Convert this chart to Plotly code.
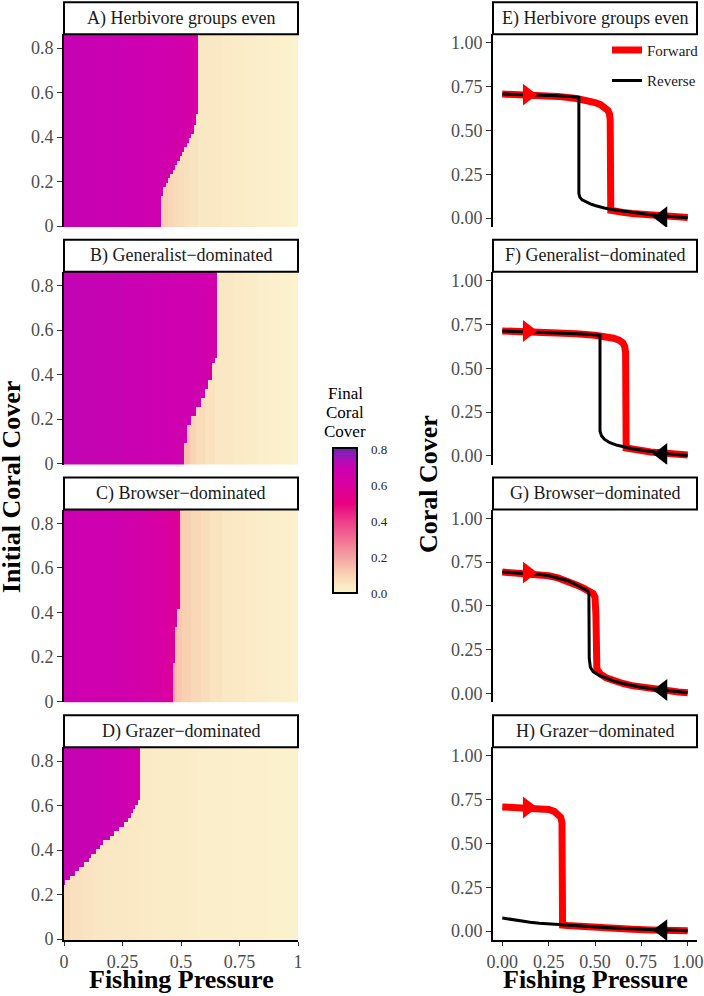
import numpy as np
import plotly.graph_objects as go

FONT = "Liberation Serif"

# ---------------- data ----------------
left_titles = ["A) Herbivore groups even", "B) Generalist\u2212dominated",
               "C) Browser\u2212dominated", "D) Grazer\u2212dominated"]
right_titles = ["E) Herbivore groups even", "F) Generalist\u2212dominated",
                "G) Browser\u2212dominated", "H) Grazer\u2212dominated"]

# heatmap grid axes
fishing_pressure = np.round(np.linspace(0, 1, 101), 2)
initial_cover = np.round(np.linspace(0, 0.86, 87), 2)

# basin boundary: fishing pressure above which coral collapses, per initial cover
A_boundary_cover = [0.00, 0.12, 0.14, 0.16, 0.18, 0.20, 0.22, 0.24, 0.26, 0.28, 0.30,
                    0.32, 0.34, 0.36, 0.38, 0.40, 0.42, 0.44, 0.46, 0.48, 0.50, 0.51]
A_boundary_fishing = [0.415, 0.42, 0.425, 0.432, 0.44, 0.452, 0.462, 0.471, 0.483, 0.494, 0.503,
                      0.514, 0.523, 0.532, 0.541, 0.549, 0.556, 0.562, 0.568, 0.573, 0.575, 0.583]
B_boundary_cover = [0.00, 0.10, 0.14, 0.18, 0.22, 0.26, 0.30, 0.34, 0.38, 0.42, 0.46, 0.48]
B_boundary_fishing = [0.522, 0.526, 0.533, 0.549, 0.57, 0.59, 0.607, 0.622, 0.635, 0.644, 0.654, 0.662]
C_boundary_cover = [0.00, 0.03, 0.18, 0.28, 0.34, 0.42]
C_boundary_fishing = [0.466, 0.469, 0.476, 0.483, 0.494, 0.504]
D_boundary_cover = [0.00, 0.25, 0.27, 0.29, 0.31, 0.33, 0.35, 0.37, 0.39, 0.41, 0.43, 0.45,
                    0.47, 0.49, 0.51, 0.53, 0.55, 0.57, 0.59, 0.61, 0.63]
D_boundary_fishing = [0.0, 0.005, 0.025, 0.045, 0.068, 0.09, 0.106, 0.12, 0.136, 0.156, 0.172, 0.195,
                      0.22, 0.238, 0.258, 0.276, 0.288, 0.30, 0.308, 0.315, 0.326]

# hysteresis curves (forward = increasing fishing, reverse = decreasing)
E_forward_x = [0, 0.1, 0.2, 0.3, 0.4, 0.45, 0.5, 0.53, 0.555, 0.57, 0.578, 0.582, 0.585, 0.6, 0.65,
               0.7, 0.75, 0.8, 0.85, 0.9, 0.95, 1.0]
E_forward_y = [0.708, 0.706, 0.702, 0.695, 0.683, 0.674, 0.66, 0.648, 0.632, 0.615, 0.595, 0.56, 0.045,
               0.04, 0.033, 0.027, 0.022, 0.017, 0.013, 0.01, 0.007, 0.004]
E_reverse_x = [0, 0.1, 0.2, 0.3, 0.36, 0.4, 0.413, 0.413, 0.418, 0.43, 0.45, 0.475, 0.5, 0.525, 0.55,
               0.6, 0.65, 0.7, 0.75, 0.8, 0.85, 0.9, 0.95, 1.0]
E_reverse_y = [0.708, 0.706, 0.703, 0.698, 0.695, 0.692, 0.69, 0.14, 0.12, 0.105, 0.093, 0.081, 0.072,
               0.064, 0.058, 0.048, 0.04, 0.033, 0.026, 0.02, 0.014, 0.01, 0.006, 0.002]

F_forward_x = [0, 0.1, 0.2, 0.3, 0.4, 0.5, 0.56, 0.6, 0.63, 0.65, 0.66, 0.665, 0.668, 0.7, 0.75,
               0.8, 0.85, 0.9, 0.95, 1.0]
F_forward_y = [0.713, 0.711, 0.708, 0.703, 0.697, 0.688, 0.68, 0.671, 0.66, 0.645, 0.625, 0.59, 0.045,
               0.038, 0.03, 0.022, 0.017, 0.012, 0.008, 0.004]
F_reverse_x = [0, 0.1, 0.2, 0.3, 0.4, 0.48, 0.527, 0.527, 0.535, 0.55, 0.58, 0.62, 0.67, 0.7, 0.75,
               0.8, 0.85, 0.9, 0.95, 1.0]
F_reverse_y = [0.713, 0.71, 0.706, 0.701, 0.697, 0.692, 0.688, 0.14, 0.115, 0.095, 0.075, 0.06, 0.047,
               0.04, 0.032, 0.024, 0.017, 0.011, 0.006, 0.002]

G_forward_x = [0, 0.1, 0.2, 0.25, 0.3, 0.35, 0.4, 0.44, 0.47, 0.49, 0.5, 0.505, 0.51, 0.53, 0.56, 0.6,
               0.65, 0.7, 0.75, 0.8, 0.85, 0.9, 0.95, 1.0]
G_forward_y = [0.693, 0.688, 0.68, 0.672, 0.66, 0.645, 0.62, 0.6, 0.585, 0.57, 0.55, 0.45, 0.14, 0.11,
               0.09, 0.072, 0.057, 0.045, 0.036, 0.028, 0.021, 0.014, 0.009, 0.004]
G_reverse_x = [0, 0.1, 0.2, 0.25, 0.3, 0.35, 0.4, 0.44, 0.462, 0.467, 0.469, 0.475, 0.49, 0.52, 0.56,
               0.6, 0.65, 0.7, 0.75, 0.8, 0.85, 0.9, 0.95, 1.0]
G_reverse_y = [0.693, 0.688, 0.68, 0.672, 0.66, 0.645, 0.62, 0.6, 0.585, 0.57, 0.2, 0.15, 0.125, 0.105,
               0.088, 0.072, 0.057, 0.045, 0.036, 0.028, 0.021, 0.014, 0.009, 0.004]

H_forward_x = [0, 0.1, 0.2, 0.25, 0.28, 0.3, 0.315, 0.322, 0.325, 0.35, 0.4, 0.5, 0.6, 0.7, 0.8, 0.9, 1.0]
H_forward_y = [0.709, 0.707, 0.703, 0.695, 0.684, 0.67, 0.65, 0.62, 0.035, 0.032, 0.028, 0.022, 0.016,
               0.011, 0.007, 0.004, 0.002]
H_reverse_x = [0, 0.05, 0.1, 0.15, 0.2, 0.25, 0.3, 0.35, 0.4, 0.45, 0.5, 0.55, 0.6, 0.65, 0.7, 0.75,
               0.8, 0.85, 0.9, 0.95, 1.0]
H_reverse_y = [0.075, 0.066, 0.058, 0.051, 0.045, 0.041, 0.037, 0.033, 0.03, 0.027, 0.024, 0.021, 0.018,
               0.015, 0.013, 0.011, 0.009, 0.007, 0.006, 0.004, 0.003]

# direction arrow heads
forward_arrow_x = 0.137
forward_arrow_y = [0.705, 0.712, 0.69, 0.706]
reverse_arrow_x = 0.864
reverse_arrow_y = [0.005, 0.01, 0.02, 0.006]

y_ticks_left = [0, 0.2, 0.4, 0.6, 0.8]
y_ticklabels_left = ["0", "0.2", "0.4", "0.6", "0.8"]
x_ticks_left = [0, 0.25, 0.5, 0.75, 1]
x_ticklabels_left = ["0", "0.25", "0.5", "0.75", "1"]
ticks_right = [0, 0.25, 0.5, 0.75, 1.0]
ticklabels_right = ["0.00", "0.25", "0.50", "0.75", "1.00"]
cbar_ticks = [0, 0.2, 0.4, 0.6, 0.8]
cbar_ticklabels = ["0.0", "0.2", "0.4", "0.6", "0.8"]

boundaries = [(A_boundary_cover, A_boundary_fishing), (B_boundary_cover, B_boundary_fishing),
              (C_boundary_cover, C_boundary_fishing), (D_boundary_cover, D_boundary_fishing)]
curves = [(E_forward_x, E_forward_y, E_reverse_x, E_reverse_y),
          (F_forward_x, F_forward_y, F_reverse_x, F_reverse_y),
          (G_forward_x, G_forward_y, G_reverse_x, G_reverse_y),
          (H_forward_x, H_forward_y, H_reverse_x, H_reverse_y)]


def final_cover_grid(b_cover, b_fish, fx, fy, rx, ry):
    fx, fy, rx, ry = map(np.asarray, (fx, fy, rx, ry))
    hi_x, hi_y = fx[fy > 0.3], fy[fy > 0.3]
    lo_x, lo_y = rx[ry < 0.3], ry[ry < 0.3]
    hi_col = hi_y[np.abs(fishing_pressure[:, None] - hi_x[None, :]).argmin(axis=1)]
    lo_col = lo_y[np.abs(fishing_pressure[:, None] - lo_x[None, :]).argmin(axis=1)]
    cols = np.arange(len(fishing_pressure))
    Z = np.empty((len(initial_cover), len(fishing_pressure)))
    for i, c in enumerate(initial_cover):
        idx = np.searchsorted(b_cover, c + 1e-9, side="right") - 1
        thr = b_fish[idx]
        n = 0 if thr <= 0 else int(np.floor(thr / 0.01 + 0.5))
        Z[i] = np.where(cols < n, hi_col, lo_col)
    return Z


# ---------------- layout geometry ----------------
W, H = 704, 996
left_dom = [64 / W, 298 / W]
right_dom = [493 / W, 697 / W]
STRIP_H = 32


def ydom(k):
    bottom_px = 226.9 + k * 237.67
    top_px = bottom_px - 192.7
    return [1 - bottom_px / H, 1 - top_px / H], top_px


colorscale = [
    [0.0, "#FCF2CE"], [0.062, "#FAE6C2"], [0.123, "#F8D4B4"], [0.247, "#F4A2A2"],
    [0.37, "#F27094"], [0.494, "#EE3E8A"], [0.617, "#E8007E"], [0.741, "#DA00A0"],
    [0.864, "#CC00B2"], [0.926, "#A810B8"], [1.0, "#6A28B0"],
]

fig = go.Figure()
layout = dict(
    template="none",
    width=W, height=H, margin=dict(l=0, r=0, t=0, b=0, autoexpand=False),
    paper_bgcolor="white", plot_bgcolor="white",
    font=dict(family=FONT, color="#1A1A1A"),
    showlegend=True,
    coloraxis=dict(
        cmin=0, cmax=0.81, colorscale=colorscale,
        colorbar=dict(
            x=333 / W, xanchor="left", y=1 - 520.5 / H, yanchor="middle",
            lenmode="pixels", len=145, thicknessmode="pixels", thickness=24,
            outlinewidth=2, outlinecolor="black", xpad=0, ypad=0,
            tickvals=cbar_ticks, ticktext=cbar_ticklabels, ticks="outside",
            ticklen=11, tickcolor="rgba(0,0,0,0)", tickwidth=1,
            tickfont=dict(family=FONT, size=13, color="#262626"),
        ),
    ),
    legend=dict(x=1.0, y=0.966, xanchor="right", yanchor="top",
                font=dict(family=FONT, size=15, color="#1A1A1A"),
                bgcolor="rgba(0,0,0,0)", tracegroupgap=8),
)
shapes, annotations = [], []

tickfont = dict(family=FONT, size=18, color="#4D4D4D")

for k in range(4):
    dom_y, top_px = ydom(k)
    bottom = k == 3
    # ---- left heatmap ----
    ax = k + 1
    sfx = "" if ax == 1 else str(ax)
    Z = final_cover_grid(boundaries[k][0], boundaries[k][1], *curves[k])
    fig.add_trace(go.Heatmap(x=fishing_pressure, y=initial_cover, z=Z, coloraxis="coloraxis",
                             xaxis="x" + sfx, yaxis="y" + sfx, hoverinfo="skip"))
    layout["xaxis" + sfx] = dict(
        domain=left_dom, anchor="y" + sfx, range=[0, 1], showgrid=False, zeroline=False,
        showline=bottom, linecolor="black", linewidth=2,
        tickvals=x_ticks_left, ticktext=x_ticklabels_left, showticklabels=bottom,
        ticks="outside" if bottom else "", ticklen=4, tickcolor="#333333", tickwidth=1,
        tickfont=tickfont,
    )
    layout["yaxis" + sfx] = dict(
        domain=dom_y, anchor="x" + sfx, range=[-0.004, 0.862], showgrid=False, zeroline=False,
        showline=True, linecolor="black", linewidth=2,
        tickvals=y_ticks_left, ticktext=y_ticklabels_left, ticks="outside", ticklen=5,
        tickcolor="#333333", tickwidth=1, ticklabelstandoff=0, tickfont=tickfont,
    )
    # ---- right hysteresis ----
    ax = k + 5
    sfx = str(ax)
    fx, fy, rx, ry = curves[k]
    fig.add_trace(go.Scatter(x=fx, y=fy, mode="lines", line=dict(color="#FF0000", width=7),
                             name="Forward", legendgroup="fwd", showlegend=(k == 0),
                             xaxis="x" + sfx, yaxis="y" + sfx, hoverinfo="skip"))
    fig.add_trace(go.Scatter(x=rx, y=ry, mode="lines", line=dict(color="#000000", width=3),
                             name="Reverse", legendgroup="rev", showlegend=(k == 0),
                             xaxis="x" + sfx, yaxis="y" + sfx, hoverinfo="skip"))
    fig.add_trace(go.Scatter(x=[forward_arrow_x], y=[forward_arrow_y[k]], mode="markers",
                             marker=dict(symbol="triangle-right", size=19, color="#FF0000",
                                         line=dict(width=0)),
                             showlegend=False, xaxis="x" + sfx, yaxis="y" + sfx, hoverinfo="skip"))
    fig.add_trace(go.Scatter(x=[reverse_arrow_x], y=[reverse_arrow_y[k]], mode="markers",
                             marker=dict(symbol="triangle-left", size=19, color="#000000",
                                         line=dict(width=0)),
                             showlegend=False, xaxis="x" + sfx, yaxis="y" + sfx, hoverinfo="skip"))
    layout["xaxis" + sfx] = dict(
        domain=right_dom, anchor="y" + sfx, range=[-0.05, 1.05], showgrid=False, zeroline=False,
        showline=bottom, linecolor="black", linewidth=2,
        tickvals=ticks_right, ticktext=ticklabels_right, showticklabels=bottom,
        ticks="outside" if bottom else "", ticklen=4, tickcolor="#333333", tickwidth=1,
        tickfont=tickfont,
    )
    layout["yaxis" + sfx] = dict(
        domain=dom_y, anchor="x" + sfx, range=[-0.05, 1.05], showgrid=False, zeroline=False,
        showline=True, linecolor="black", linewidth=2,
        tickvals=ticks_right, ticktext=ticklabels_right, ticks="outside", ticklen=5,
        tickcolor="#333333", tickwidth=1, ticklabelstandoff=0, tickfont=tickfont,
    )
    # ---- strips ----
    y0 = dom_y[1]
    y1 = 1 - (top_px - STRIP_H) / H
    for dom, title in ((left_dom, left_titles[k]), (right_dom, right_titles[k])):
        shapes.append(dict(type="rect", xref="paper", yref="paper", x0=dom[0], x1=dom[1],
                           y0=y0, y1=y1, line=dict(color="black", width=2), fillcolor="white"))
        annotations.append(dict(text=title, xref="paper", yref="paper", x=(dom[0] + dom[1]) / 2,
                                y=(y0 + y1) / 2, xanchor="center", yanchor="middle",
                                showarrow=False, font=dict(family=FONT, size=18, color="#1A1A1A")))

# axis titles
annotations += [
    dict(text="<b>Initial Coral Cover</b>", xref="paper", yref="paper", x=11.5 / W, y=1 - 487.5 / H,
         textangle=-90, showarrow=False, xanchor="center", yanchor="middle",
         font=dict(family=FONT, size=26, color="black")),
    dict(text="<b>Coral Cover</b>", xref="paper", yref="paper", x=428 / W, y=1 - 484 / H,
         textangle=-90, showarrow=False, xanchor="center", yanchor="middle",
         font=dict(family=FONT, size=26, color="black")),
    dict(text="<b>Fishing Pressure</b>", xref="paper", yref="paper", x=181 / W, y=0,
         showarrow=False, xanchor="center", yanchor="bottom",
         font=dict(family=FONT, size=26, color="black")),
    dict(text="<b>Fishing Pressure</b>", xref="paper", yref="paper", x=595 / W, y=0,
         showarrow=False, xanchor="center", yanchor="bottom",
         font=dict(family=FONT, size=26, color="black")),
]
# colorbar title
for line, ypx in (("Final", 393), ("Coral", 412), ("Cover", 431)):
    annotations.append(dict(text=line, xref="paper", yref="paper", x=345 / W, y=1 - ypx / H,
                            showarrow=False, xanchor="center", yanchor="middle",
                            font=dict(family=FONT, size=17, color="black")))

layout["shapes"] = shapes
layout["annotations"] = annotations
fig.update_layout(**layout)
fig.write_html("out.html")
